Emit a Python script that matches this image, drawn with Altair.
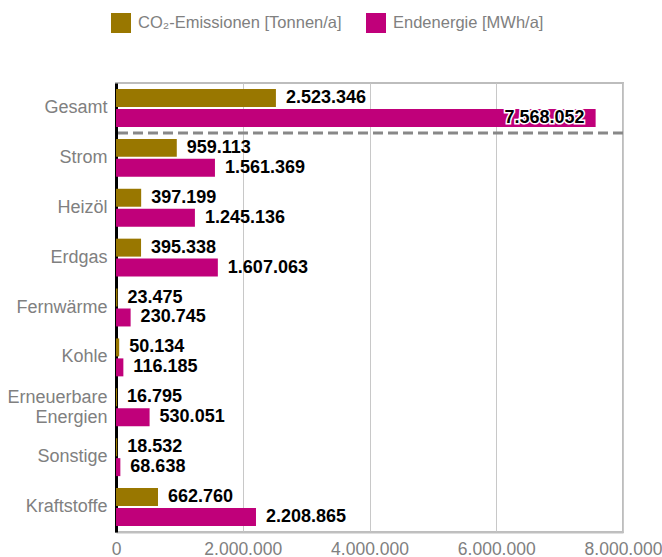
import altair as alt
import pandas as pd

categories = ["Gesamt", "Strom", "Heizöl", "Erdgas", "Fernwärme", "Kohle",
              "Erneuerbare Energien", "Sonstige", "Kraftstoffe"]
series = ["CO₂-Emissionen [Tonnen/a]", "Endenergie [MWh/a]"]
co2 = [2523346, 959113, 397199, 395338, 23475, 50134, 16795, 18532, 662760]
energie = [7568052, 1561369, 1245136, 1607063, 230745, 116185, 530051, 68638, 2208865]
x_ticks = [0, 2000000, 4000000, 6000000, 8000000]

rows = []
for c, a, b in zip(categories, co2, energie):
    rows.append({"cat": c, "series": series[0], "value": a})
    rows.append({"cat": c, "series": series[1], "value": b})
df = pd.DataFrame(rows)
sep_df = pd.DataFrame({"cat": [categories[0]]})

GOLD = "#997700"
MAGENTA = "#C0007A"
GREY = "#808080"
FMT = "replace(format(datum.value, ',d'), regexp(',', 'g'), '.')"

x = alt.X("value:Q", scale=alt.Scale(domain=[0, 8000000], nice=False),
          axis=alt.Axis(title=None, values=x_ticks, labelExpr=FMT, grid=True,
                        gridColor="#c8c8c8", gridWidth=1, ticks=False,
                        domainColor="#c0c0c0", domainWidth=2,
                        labelFontSize=17.5, labelColor=GREY, labelPadding=8,
                        labelFlush=False))
y = alt.Y("cat:N", sort=categories,
          scale=alt.Scale(paddingInner=0.24, paddingOuter=0.12),
          axis=alt.Axis(title=None, ticks=False, domainColor="black", domainWidth=3,
                        labelFontSize=18, labelColor=GREY, labelPadding=9,
                        labelLineHeight=20, labelExpr="split(datum.label, ' ')",
                        labelOffset={"condition": {"test": "indexof(datum.value, ' ') >= 0",
                                                   "value": -9},
                                     "value": 0}))
yoff = alt.YOffset("series:N", sort=series,
                   scale=alt.Scale(paddingInner=0.1, paddingOuter=0))

base = alt.Chart(df)

bars = base.mark_bar().encode(
    x=x, y=y, yOffset=yoff,
    color=alt.Color("series:N", sort=series,
                    scale=alt.Scale(domain=series, range=[GOLD, MAGENTA]),
                    legend=alt.Legend(title=None, orient="none", legendX=-5, legendY=-70,
                                      direction="horizontal", symbolType="square",
                                      symbolSize=400, labelFontSize=16.5,
                                      labelColor=GREY, columnPadding=24,
                                      labelOffset=7, symbolStrokeWidth=0,
                                      labelLimit=400)),
)

rule = alt.Chart(sep_df).mark_rule(color="#888888", strokeWidth=3, strokeDash=[10, 5],
                                   yOffset=6).encode(
    y=alt.Y("cat:N", sort=categories, bandPosition=1)
)

text_out = base.transform_filter("datum.value <= 6000000").transform_calculate(
    lbl=FMT
).mark_text(align="left", baseline="middle", dx=10, fontSize=18,
            fontWeight="bold", color="black").encode(
    x=x, y=y, yOffset=yoff, text="lbl:N"
)

text_in_halo = base.transform_filter("datum.value > 6000000").transform_calculate(
    lbl=FMT
).mark_text(align="right", baseline="middle", dx=-11, fontSize=18,
            fontWeight="bold", color="white", stroke="white", strokeWidth=3).encode(
    x=x, y=y, yOffset=yoff, text="lbl:N"
)

text_in = base.transform_filter("datum.value > 6000000").transform_calculate(
    lbl=FMT
).mark_text(align="right", baseline="middle", dx=-11, fontSize=18,
            fontWeight="bold", color="black").encode(
    x=x, y=y, yOffset=yoff, text="lbl:N"
)

chart = alt.layer(bars, rule, text_out, text_in_halo, text_in).properties(
    width=507, height=449,
    autosize=alt.AutoSizeParams(type="none"),
    padding={"left": 116, "top": 83, "right": 39, "bottom": 25},
).configure(font="Liberation Sans").configure_view(stroke="#bdbdbd", strokeWidth=2)

chart.save("out.html", embed_options={"renderer": "svg", "actions": False})
